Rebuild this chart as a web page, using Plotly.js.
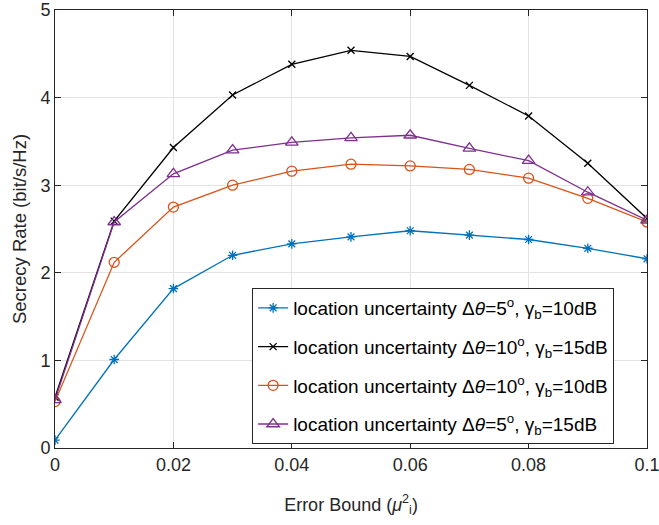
<!DOCTYPE html>
<html>
<head>
<meta charset="utf-8">
<script src="https://cdn.plot.ly/plotly-3.0.1.min.js"></script>
<style>
  html, body { margin: 0; padding: 0; background: #fff; }
  #chart { width: 659px; height: 525px; }
</style>
</head>
<body>
<div id="chart"></div>
<script>
// Error bound values on the horizontal axis
const errorBound = [0, 0.01, 0.02, 0.03, 0.04, 0.05, 0.06, 0.07, 0.08, 0.09, 0.1];

// Secrecy rate (bit/s/Hz) for each configuration
const rateD5G10  = [0.09, 1.01, 1.82, 2.20, 2.33, 2.41, 2.48, 2.43, 2.38, 2.28, 2.16];
const rateD10G15 = [0.58, 2.59, 3.43, 4.03, 4.38, 4.54, 4.47, 4.14, 3.79, 3.25, 2.62];
const rateD10G10 = [0.53, 2.12, 2.75, 3.00, 3.16, 3.24, 3.22, 3.18, 3.08, 2.85, 2.58];
const rateD5G15  = [0.55, 2.58, 3.13, 3.40, 3.49, 3.54, 3.57, 3.42, 3.28, 2.92, 2.60];

const seriesNames = [
  'location uncertainty \u0394<i>\u03b8</i>=5<sup>o</sup>, \u03b3<sub>b</sub>=10dB',
  'location uncertainty \u0394<i>\u03b8</i>=10<sup>o</sup>, \u03b3<sub>b</sub>=15dB',
  'location uncertainty \u0394<i>\u03b8</i>=10<sup>o</sup>, \u03b3<sub>b</sub>=10dB',
  'location uncertainty \u0394<i>\u03b8</i>=5<sup>o</sup>, \u03b3<sub>b</sub>=15dB'
];

const xTickVals = [0, 0.02, 0.04, 0.06, 0.08, 0.1];
const xTickText = ['0', '0.02', '0.04', '0.06', '0.08', '0.1'];
const yTickVals = [0, 1, 2, 3, 4, 5];

const FONT = 'Liberation Sans, Arial, Helvetica, sans-serif';

function line(y, name, color, symbol, size, group) {
  return {
    x: errorBound, y: y, name: name, type: 'scatter', mode: 'lines+markers',
    legendgroup: group,
    line: { color: color, width: 1.3 },
    marker: { symbol: symbol, size: size, color: color, line: { color: color, width: 1.3 } }
  };
}

const traces = [
  line(rateD5G10,  seriesNames[0], '#0072BD', 'asterisk-open', 8, 'a'),
  line(rateD10G15, seriesNames[1], '#000000', 'x-thin-open', 7, 'b'),
  line(rateD10G10, seriesNames[2], '#D95319', 'circle-open', 10, 'c'),
  line(rateD5G15,  seriesNames[3], '#7E2F8E', 'triangle-up-open', 11, 'd')
];

const axisCommon = {
  showline: true, linecolor: '#262626', linewidth: 1, mirror: 'ticks',
  ticks: 'inside', ticklen: 6, tickcolor: '#262626',
  showgrid: true, gridcolor: '#e3e3e3', gridwidth: 1,
  zeroline: false, ticklabeloverflow: 'allow',
  tickfont: { family: FONT, size: 18, color: '#262626' }
};

const layout = {
  width: 659, height: 525,
  margin: { l: 55, r: 12, t: 10, b: 77 },
  paper_bgcolor: '#ffffff', plot_bgcolor: '#ffffff',
  showlegend: true,
  xaxis: Object.assign({}, axisCommon, {
    range: [0, 0.1], tickmode: 'array', tickvals: xTickVals, ticktext: xTickText,
    title: { text: 'Error Bound (<i>\u03bc</i><sup>2</sup><sub>i</sub>)', standoff: 24,
             font: { family: FONT, size: 18, color: '#262626' } }
  }),
  yaxis: Object.assign({}, axisCommon, {
    range: [0, 5], tickmode: 'array', tickvals: yTickVals,
    title: { text: 'Secrecy Rate (bit/s/Hz)', standoff: 8,
             font: { family: FONT, size: 18.5, color: '#262626' } }
  }),
  legend: {
    x: 0.333, y: 0.009, xanchor: 'left', yanchor: 'bottom',
    xref: 'paper', yref: 'paper',
    bgcolor: '#ffffff', bordercolor: '#262626', borderwidth: 1,
    traceorder: 'grouped', tracegroupgap: 11,
    font: { family: FONT, size: 19, color: '#000000' }
  }
};

Plotly.newPlot('chart', traces, layout, { displayModeBar: false, staticPlot: true });
</script>
</body>
</html>
